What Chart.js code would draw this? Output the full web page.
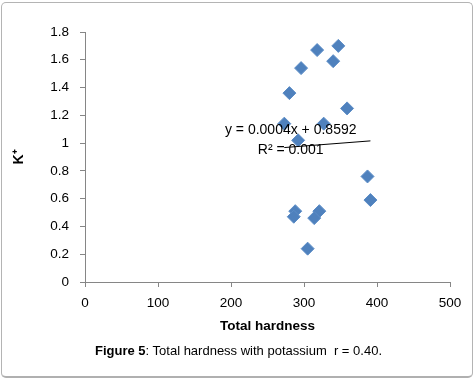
<!DOCTYPE html>
<html>
<head>
<meta charset="utf-8">
<script src="https://cdn.jsdelivr.net/npm/chart.js@4"></script>
<style>
  html, body { margin: 0; padding: 0; background: #fff; }
  #wrap { position: relative; width: 473px; height: 379px; overflow: hidden; }
  #frame { position: absolute; left: 1px; top: 2px; width: 470px; height: 373px;
           border: 1px solid #b4b4b4; border-bottom: 2px solid #b0b0b0; border-radius: 5px; box-sizing: content-box; }
  #c { position: absolute; left: 0; top: 0; }
  #caption { position: absolute; left: 0; width: 477px; top: 343px; text-align: center;
             font: 13px "Liberation Sans", Arial, sans-serif; color: #000; white-space: pre; }
</style>
</head>
<body>
<div id="wrap">
  <div id="frame"></div>
  <canvas id="c" width="473" height="379"></canvas>
  <div id="caption"><b>Figure 5</b>: Total hardness with potassium  r = 0.40.</div>
</div>
<script>
// Data
const hardness = [347, 318, 340, 296, 280, 359, 273, 327, 292, 387, 391, 288, 286, 321, 314, 305];
const potassium = [1.70, 1.67, 1.59, 1.54, 1.36, 1.25, 1.14, 1.14, 1.02, 0.76, 0.59, 0.51, 0.47, 0.51, 0.46, 0.24];
const trendX = [273, 391];
const trendY = [0.968, 1.016];
const trendLabel = ["y = 0.0004x + 0.8592", "R² = 0.001"];
const xTicks = [0, 100, 200, 300, 400, 500];
const yTicks = [0, 0.2, 0.4, 0.6, 0.8, 1, 1.2, 1.4, 1.6, 1.8];

const points = hardness.map((x, i) => ({ x: x, y: potassium[i] }));
const trend = trendX.map((x, i) => ({ x: x, y: trendY[i] }));

const trendText = {
  id: 'trendText',
  afterDatasetsDraw(chart) {
    const ctx = chart.ctx;
    const a = chart.chartArea;
    ctx.save();
    ctx.fillStyle = '#000';
    ctx.font = '14px "Liberation Sans", Arial, sans-serif';
    ctx.textAlign = 'center';
    ctx.textBaseline = 'middle';
    const cx = a.left + (a.right - a.left) * 0.5636;
    ctx.fillText(trendLabel[0], cx, a.top + 98);
    ctx.fillText(trendLabel[1], cx, a.top + 118);
    ctx.restore();
  }
};

const axisColor = '#868686';
const tickFont = { family: '"Liberation Sans", Arial, sans-serif', size: 13.5 };

new Chart(document.getElementById('c'), {
  type: 'scatter',
  data: {
    datasets: [
      {
        label: 'K+',
        data: points,
        pointStyle: 'rectRot',
        pointRadius: 6.5,
        pointHoverRadius: 6.5,
        backgroundColor: '#4F81BD',
        borderColor: '#5b8cc6',
        borderWidth: 1,
        order: 1
      },
      {
        type: 'line',
        label: 'trend',
        data: trend,
        borderColor: '#000',
        borderWidth: 1,
        pointRadius: 0,
        fill: false,
        order: 0
      }
    ]
  },
  options: {
    responsive: false,
    animation: false,
    events: [],
    layout: { padding: { left: 0, right: 23, top: 32, bottom: 45 } },
    plugins: { legend: { display: false }, tooltip: { enabled: false } },
    scales: {
      x: {
        type: 'linear',
        min: 0, max: 500,
        afterBuildTicks: (s) => { s.ticks = xTicks.map(v => ({ value: v })); },
        afterFit: (s) => { s.height = 52; },
        grid: { display: true, drawOnChartArea: false, drawTicks: true, tickLength: 5, color: axisColor },
        border: { display: true, color: axisColor, width: 1 },
        ticks: { color: '#000', font: tickFont, padding: 8, maxRotation: 0 },
        title: { display: true, text: 'Total hardness', color: '#000',
                 font: { family: '"Liberation Sans", Arial, sans-serif', size: 13.5, weight: 'bold' },
                 padding: { top: 1, bottom: 0 } }
      },
      y: {
        type: 'linear',
        min: 0, max: 1.8,
        afterBuildTicks: (s) => { s.ticks = yTicks.map(v => ({ value: v })); },
        afterFit: (s) => { s.width = 85; },
        grid: { display: true, drawOnChartArea: false, drawTicks: true, tickLength: 5, color: axisColor },
        border: { display: true, color: axisColor, width: 1 },
        ticks: { color: '#000', font: tickFont, padding: 11,
                 callback: (v) => String(Math.round(v * 10) / 10) },
        title: { display: true, text: 'K⁺', color: '#000',
                 font: { family: '"Liberation Sans", Arial, sans-serif', size: 14, weight: 'bold' },
                 padding: { top: 11, bottom: 0 } }
      }
    }
  },
  plugins: [trendText]
});
</script>
</body>
</html>
